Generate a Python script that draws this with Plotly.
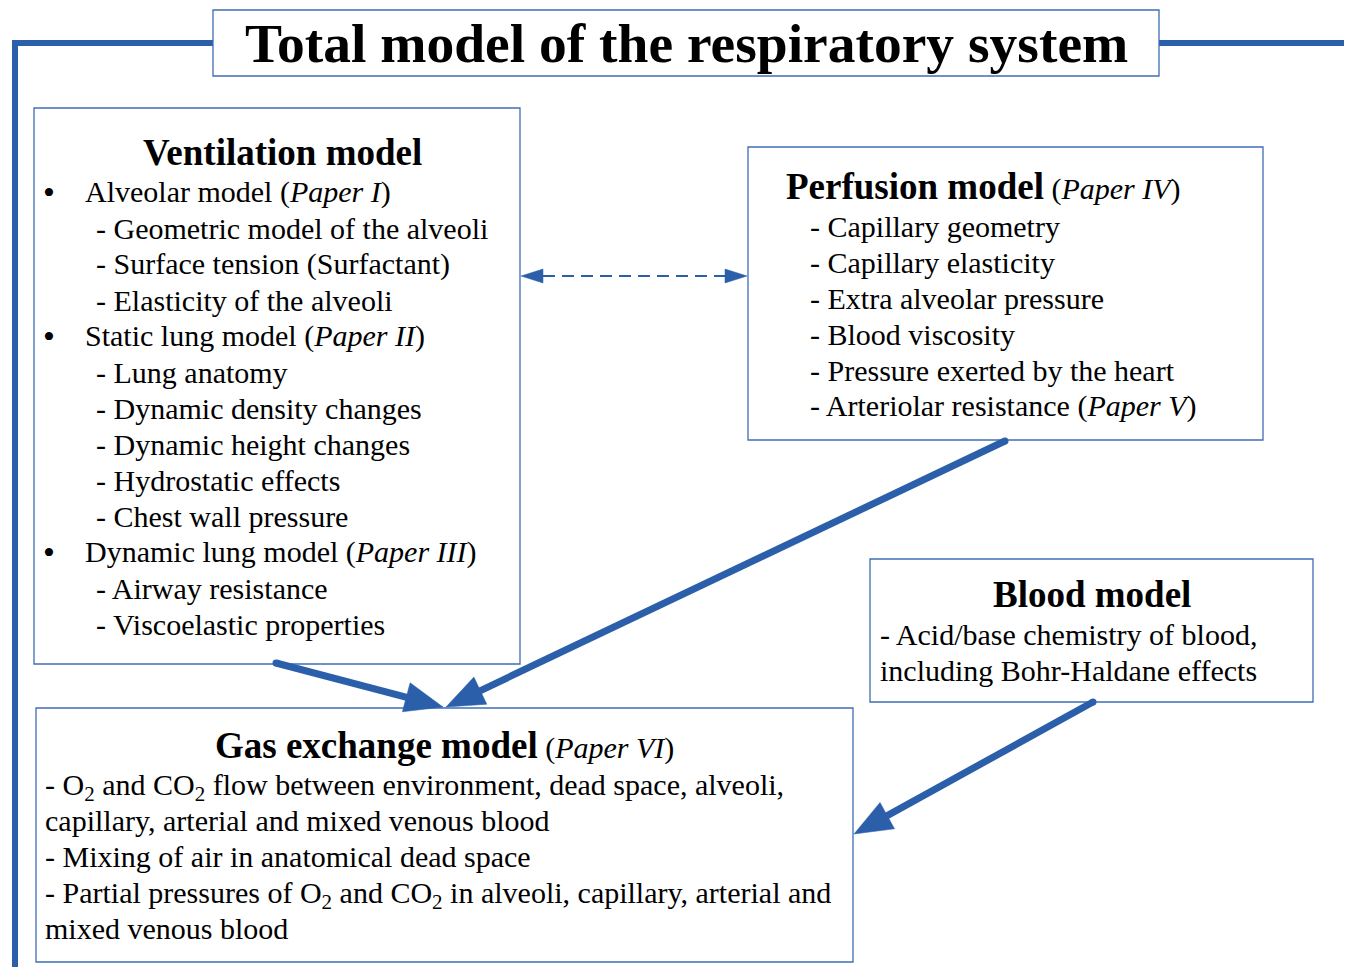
import numpy as np
import plotly.graph_objects as go

# ---------------- content ----------------
title_text = "Total model of the respiratory system"

vent_header = "Ventilation model"
vent_lines = [
    ("bullet", "Alveolar model (<i>Paper I</i>)"),
    ("sub", "- Geometric model of the alveoli"),
    ("sub", "- Surface tension (Surfactant)"),
    ("sub", "- Elasticity of the alveoli"),
    ("bullet", "Static lung model (<i>Paper II</i>)"),
    ("sub", "- Lung anatomy"),
    ("sub", "- Dynamic density changes"),
    ("sub", "- Dynamic height changes"),
    ("sub", "- Hydrostatic effects"),
    ("sub", "- Chest wall pressure"),
    ("bullet", "Dynamic lung model (<i>Paper III</i>)"),
    ("sub", "- Airway resistance"),
    ("sub", "- Viscoelastic properties"),
]

perf_header = "Perfusion model"
perf_paper = "Paper IV"
perf_lines = [
    "- Capillary geometry",
    "- Capillary elasticity",
    "- Extra alveolar pressure",
    "- Blood viscosity",
    "- Pressure exerted by the heart",
    "- Arteriolar resistance (<i>Paper V</i>)",
]

blood_header = "Blood model"
blood_lines = [
    "- Acid/base chemistry of blood,",
    "including Bohr-Haldane effects",
]

gas_header = "Gas exchange model"
gas_paper = "Paper VI"
gas_lines = [
    "- O<sub>2</sub> and CO<sub>2</sub> flow between environment, dead space, alveoli,",
    "capillary, arterial and mixed venous blood",
    "- Mixing of air in anatomical dead space",
    "- Partial pressures of O<sub>2</sub> and CO<sub>2</sub> in alveoli, capillary, arterial and",
    "mixed venous blood",
]

# ---------------- layout geometry ----------------
W, H = 1352, 967
PAGE_MARGIN = 8  # default body margin of the html page
FONT = "Liberation Serif"
BLUE = "#2B5FA9"
BOX_BLUE = "#3F6DB4"
TITLE_SIZE = 55.5
HEAD_SIZE = 37
BODY_SIZE = 30
LINE_GAP = 36

boxes = {
    "title": (213, 10, 1159, 76),
    "vent": (34, 108, 520, 664),
    "perf": (748, 147, 1263, 440),
    "blood": (870, 559, 1313, 702),
    "gas": (36, 708, 853, 962),
}

fig = go.Figure()
shapes = []
annots = []

# outer frame
shapes.append(dict(type="path", path="M 15 975 L 15 43 L 213 43",
                   line=dict(color=BLUE, width=6)))
shapes.append(dict(type="line", x0=1159, y0=43, x1=W + 5, y1=43,
                   line=dict(color=BLUE, width=6)))

for k, (x0, y0, x1, y1) in boxes.items():
    shapes.append(dict(type="rect", x0=x0, y0=y0, x1=x1, y1=y1,
                       line=dict(color=BOX_BLUE, width=1.3),
                       fillcolor="white", layer="above" if k == "title" else "below"))


def text(x, y, s, size=BODY_SIZE, anchor="left", bold=False):
    if bold:
        s = "<b>" + s + "</b>"
    shift = -3 if "<sub>" in s else 0
    annots.append(dict(x=x, y=y, xref="x", yref="y", text=s, showarrow=False,
                       xanchor=anchor, yanchor="middle", borderpad=0, borderwidth=0,
                       yshift=shift,
                       font=dict(family=FONT, size=size, color="black")))


# title
text(686, 43, title_text, size=TITLE_SIZE, anchor="center", bold=True)

# ventilation
text(282, 152, vent_header, size=HEAD_SIZE, anchor="center", bold=True)
for i, (kind, s) in enumerate(vent_lines):
    y = 192 + LINE_GAP * i
    if kind == "bullet":
        text(43, y, "•", size=34)
        text(85, y, s)
    else:
        text(96, y, s)

# perfusion
text(786, 186, "<b>" + perf_header + "</b>" +
     f"<span style='font-size:{BODY_SIZE}px'> (<i>{perf_paper}</i>)</span>",
     size=HEAD_SIZE)
for i, s in enumerate(perf_lines):
    text(810, 226 + LINE_GAP * i, s)

# blood
text(1092, 594, blood_header, size=HEAD_SIZE, anchor="center", bold=True)
for i, s in enumerate(blood_lines):
    text(880, 634 + LINE_GAP * i, s)

# gas exchange
text(444, 745, "<b>" + gas_header + "</b>" +
     f"<span style='font-size:{BODY_SIZE}px'> (<i>{gas_paper}</i>)</span>",
     size=HEAD_SIZE, anchor="center")
for i, s in enumerate(gas_lines):
    text(45, 784 + LINE_GAP * i, s)


# ---------------- arrows ----------------
def head(tip, frm, length, width, color):
    tip = np.array(tip, float)
    frm = np.array(frm, float)
    d = tip - frm
    d /= np.linalg.norm(d)
    n = np.array([-d[1], d[0]])
    base = tip - d * length
    p1 = base + n * width / 2
    p2 = base - n * width / 2
    shapes.append(dict(type="path",
                       path=f"M {tip[0]:.1f} {tip[1]:.1f} L {p1[0]:.1f} {p1[1]:.1f} "
                            f"L {p2[0]:.1f} {p2[1]:.1f} Z",
                       fillcolor=color, line=dict(color=color, width=0.5)))
    return base


def thick_arrow(start, tip, lw=7, L=38, Wd=30):
    base = head(tip, start, L, Wd, BLUE)
    back = np.array(tip, float) + (base - np.array(tip, float)) * 0.7
    shapes.append(dict(type="line", x0=start[0], y0=start[1], x1=back[0], y1=back[1],
                       line=dict(color=BLUE, width=lw)))
    r = lw / 2
    shapes.append(dict(type="circle", x0=start[0] - r, y0=start[1] - r,
                       x1=start[0] + r, y1=start[1] + r,
                       fillcolor=BLUE, line=dict(width=0)))


thick_arrow((276, 663), (443, 707))
thick_arrow((1005, 441), (446, 707))
thick_arrow((1093, 702), (854, 834))

# dashed double arrow
b1 = head((521, 276), (747, 276), 22, 14, BLUE)
b2 = head((747, 276), (521, 276), 22, 14, BLUE)
shapes.append(dict(type="line", x0=b1[0], y0=276, x1=b2[0], y1=276,
                   line=dict(color=BLUE, width=2, dash="12px,7px")))

fig.update_layout(
    width=W - PAGE_MARGIN, height=H - PAGE_MARGIN, autosize=False,
    margin=dict(l=0, r=0, t=0, b=0),
    paper_bgcolor="white", plot_bgcolor="white",
    xaxis=dict(range=[PAGE_MARGIN, W], visible=False, fixedrange=True),
    yaxis=dict(range=[H, PAGE_MARGIN], visible=False, fixedrange=True),
    shapes=shapes, annotations=annots, showlegend=False,
)

fig.write_html("out.html")
